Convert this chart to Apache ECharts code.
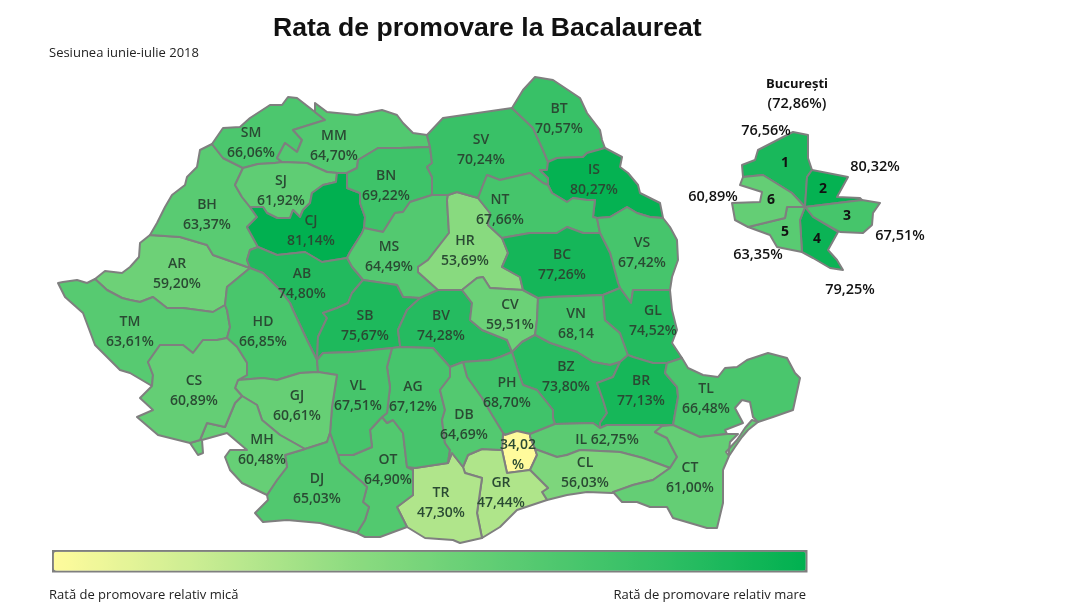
<!DOCTYPE html>
<html>
<head>
<meta charset="utf-8">
<title>Rata de promovare la Bacalaureat</title>
<script src="https://cdn.jsdelivr.net/npm/echarts@6/dist/echarts.min.js"></script>
<style>
  html, body { margin: 0; padding: 0; background: #fff; }
  #chart { width: 1077px; height: 605px; }
</style>
</head>
<body>
<div id="chart"></div>
<script>
// values
const counties = ["AR","TM","BH","SM","MM","SJ","CJ","BN","MS","AB","HD","SB","BV","HR","CV","SV","BT","IS","NT","VS","BC","VN","GL","BZ","BR","TL","PH","IL","IF","CL","GR","CT","TR","OT","AG","DB","VL","GJ","DJ","MH","CS"];
const countyValues = [59.20,63.61,63.37,66.06,64.70,61.92,81.14,69.22,64.49,74.80,66.85,75.67,74.28,53.69,59.51,70.24,70.57,80.27,67.66,67.42,77.26,68.14,74.52,73.80,77.13,66.48,68.70,62.75,34.02,56.03,47.44,61.00,47.30,64.90,67.12,64.69,67.51,60.61,65.03,60.48,60.89];
const sectors = ["1","2","3","4","5","6"];
const sectorValues = [76.56,80.32,67.51,79.25,63.35,60.89];
const bucharestTotal = 72.86;

// county outlines, traced in picture pixels. each border is typed once so neighbours line up
const borders = {
  ar_out: "150,235 140,243 139,257 130,267 122,273 105,271 95,279",
  bh_ar: "150,235 180,237 207,245 213,255 250,268",
  ar_tm: "95,279 107,290 122,298 130,300 140,302 153,297 167,308 183,308 213,312 225,305",
  ar_hd: "225,305 227,287 250,268",
  tm_out: "95,279 87,283 77,280 63,282 58,283 65,297 83,313 95,345 110,360 120,370 130,373 152,386",
  tm_hd: "225,305 227,310 230,327 227,338",
  tm_cs: "152,386 153,375 148,362 160,345 183,345 193,353 203,340 217,340 227,338",
  hd_cs: "227,338 237,347 247,363 247,375 238,380",
  hd_gj: "238,380 263,378 277,380 300,373 318,372",
  cs_gj: "238,380 235,388 242,396",
  cs_out: "152,386 140,398 153,410 137,417 158,435 190,443",
  cs_mh: "242,396 235,403 225,427 207,423 200,440 190,443",
  mh_out: "190,443 198,455 203,453 202,440 227,433 247,450 230,450 225,457 230,470 242,483 267,495",
  mh_gj: "242,396 257,405 262,420 280,435 305,449",
  mh_dj: "267,495 277,480 287,467 285,455 305,449",
  dj_out: "267,495 268,500 255,513 263,522 287,520 320,523 357,533",
  gj_dj: "305,449 327,442 330,433",
  gj_vl: "318,372 337,375 332,407 330,433",
  vl_dj: "330,433 337,453 338,455",
  dj_ot: "338,455 340,463 363,483 367,487 363,502 369,507 365,520 357,533",
  ot_out: "357,533 365,537 380,537 407,527",
  ot_vl: "338,455 353,455 372,447 370,430 382,417",
  vl_ag: "392,348 387,367 390,387 387,413 382,417",
  ot_ag: "382,417 387,423 393,420 403,433 407,467",
  ot_tr: "407,467 413,470 413,495 397,507 407,527",
  ag_tr: "407,467 415,468 448,463",
  tr_out: "407,527 425,538 453,540 460,543 482,538",
  tr_gr: "463,467 465,473 482,478 477,513 482,538",
  db_tr: "448,463 452,453 463,467",
  gr_out: "482,538 500,527 517,510 547,500",
  db_gr: "463,467 468,455 482,449 502,450",
  gr_if: "502,450 507,473 530,470",
  cl_gr: "547,500 542,492 548,488 537,477 530,470",
  if_cl: "530,470 537,455 535,449",
  il_if: "535,449 530,437 530,434",
  ph_if: "530,434 517,431 505,435 503,433",
  db_if: "503,433 502,450",
  db_ph: "463,362 467,377 482,398 492,415 503,433",
  ag_db: "450,367 450,377 440,390 445,410 442,420 445,443 450,450 448,463",
  bv_db: "450,367 463,362",
  ag_bv: "400,347 433,348 450,367",
  ag_sb: "392,348 400,347",
  sb_vl: "317,360 323,353 353,352 392,348",
  hd_vl: "317,360 318,372",
  ab_hd: "250,268 263,273 280,290 290,303 293,310 307,340 317,360",
  ab_sb: "317,360 318,337 327,318 323,313 337,308 348,303 352,293 363,280",
  ab_ms: "347,258 352,267 363,280",
  bh_ab: "258,247 250,250 247,260 250,268",
  bh_cj: "250,207 257,217 247,227 258,247",
  bh_sj: "243,168 235,185 242,197 250,207",
  bh_out: "150,235 157,223 165,207 172,195 185,185 187,177 197,167 200,150 212,144",
  bh_sm: "212,144 223,158 243,168",
  sm_out: "212,144 223,128 240,127 250,118 270,105 282,105 288,97 297,98 315,112",
  sm_mm: "315,112 325,120 293,130 302,140 297,152 285,143 277,158 282,162",
  sm_sj: "243,168 258,164 275,163 282,162",
  mm_out: "315,112 315,103 327,112 357,115 382,110 397,115 403,123 413,133 427,135",
  mm_sv: "427,135 430,147",
  bn_mm: "430,147 400,148 378,148 358,160 357,168 347,173",
  mm_sj: "282,162 307,163 327,172 337,173",
  mm_cj: "337,173 347,173",
  bn_cj: "347,173 347,188 360,193 360,203 365,217 364,228",
  cj_sj: "337,173 336,182 323,185 312,193 310,203 303,210 300,217 293,210 290,218 277,218 267,213 263,207 250,207",
  bn_ms: "364,228 383,232 395,213 403,212 410,202 432,195",
  bn_sv: "430,147 432,163 427,167 432,177 432,195",
  cj_ms: "364,228 362,233 350,252 347,258",
  cj_ab: "258,247 277,255 305,252 322,262 347,258",
  ms_sv: "432,195 448,195",
  hr_ms: "448,195 447,200 449,233 428,260 418,267 418,272 438,290",
  ms_sb: "363,280 397,285 403,297 420,298",
  ms_bv: "420,298 438,290",
  sb_bv: "420,298 407,310 398,330 400,345 400,347",
  bv_hr: "438,290 462,290",
  bv_cv: "462,290 472,303 470,320 482,330 507,340 512,352",
  bv_ph: "463,362 490,360 500,357 512,352",
  hr_sv: "448,195 457,192 478,198",
  hr_nt: "478,198 490,213 488,225 502,238",
  hr_bc: "502,238 508,253 502,267 520,277 523,290",
  hr_cv: "462,290 477,278 483,277 490,288 523,290",
  bc_cv: "523,290 538,298",
  bc_vn: "538,298 550,297 603,295",
  bc_gl: "603,295 620,288",
  bc_vs: "600,233 610,253 618,283 620,288",
  bc_nt: "502,238 530,233 557,233 567,227 583,233 600,233",
  nt_sv: "478,198 487,175 500,180 530,173 543,183 548,185",
  is_nt: "548,185 552,193 567,202 573,198 587,200 595,200 593,217 597,218",
  nt_vs: "597,218 600,233",
  is_sv: "548,185 548,178 540,170 547,170 548,162",
  bt_sv: "512,108 533,128 543,150 548,162",
  sv_out: "427,135 443,118 512,108",
  bt_out: "512,108 523,90 535,77 553,80 580,98 587,113 600,130 602,140 605,148",
  bt_is: "605,148 587,153 583,157 557,158 548,162",
  is_out: "605,148 622,157 620,167 628,173 638,185 640,193 660,203 663,218",
  is_vs: "663,218 650,217 637,213 627,207 610,217 597,218",
  vs_out: "663,218 670,227 677,240 678,260 672,277 670,290",
  gl_vs: "620,288 631,303 633,290 670,290",
  gl_out: "670,290 672,310 677,330 672,343 682,358",
  gl_tl: "682,358 667,363",
  br_gl: "667,363 653,363 633,357 628,355",
  gl_vn: "603,295 605,320 620,333 628,355",
  bz_vn: "535,335 550,343 577,352 593,362 610,365 620,362",
  br_vn: "620,362 628,355",
  cv_vn: "538,298 537,320 535,335",
  bz_cv: "535,335 522,342 512,352",
  br_bz: "620,362 613,377 597,383 603,400 607,413 600,423 600,428",
  br_il: "600,428 607,425 657,425 673,425",
  br_tl: "667,363 665,373 677,387 678,397 673,425",
  bz_il: "600,428 593,423 555,424",
  bz_ph: "512,352 520,377 523,385 537,390 553,410 553,418 555,424",
  il_ph: "555,424 530,434",
  il_cl: "535,449 557,457 567,455 580,450 620,452 643,458 670,468",
  ct_il: "670,468 677,457 667,438 655,432 662,426 673,425",
  ct_tl: "673,425 700,437 727,434",
  tl_out: "682,358 688,368 703,375 718,377 725,368 737,367 747,360 768,353 787,358 795,373 800,378 793,410 773,417 758,422 753,417 750,402 742,400 735,408 743,423 725,430 727,434",
  ct_out: "727,434 738,434 730,442 729,450 729,456 723,470 723,483 723,503 717,528 707,528 673,518 667,507 650,507 637,502 622,502 612,493",
  cl_ct: "670,468 653,480 633,485 613,492 612,493",
  cl_out: "612,493 587,492 567,495 547,500"
};

const rings = {
  AR: "ar_out ar_tm ar_hd -bh_ar",
  TM: "tm_out tm_cs -tm_hd -ar_tm",
  BH: "bh_out bh_sm bh_sj bh_cj bh_ab -bh_ar",
  SM: "sm_out sm_mm -sm_sj -bh_sm",
  MM: "mm_out mm_sv bn_mm -mm_cj -mm_sj -sm_mm",
  SJ: "sm_sj mm_sj cj_sj -bh_sj",
  CJ: "mm_cj bn_cj cj_ms -cj_ab -bh_cj -cj_sj",
  BN: "-bn_mm bn_sv -bn_ms -bn_cj",
  MS: "bn_ms ms_sv hr_ms -ms_bv -ms_sb -ab_ms -cj_ms",
  AB: "bh_ab ab_hd ab_sb -ab_ms -cj_ab",
  HD: "ar_hd ab_hd hd_vl -hd_gj -hd_cs -tm_hd",
  SB: "-ab_sb sb_vl ag_sb -sb_bv -ms_sb",
  BV: "sb_bv ag_bv bv_db bv_ph -bv_cv -bv_hr -ms_bv",
  HR: "-hr_ms hr_sv hr_nt hr_bc -hr_cv -bv_hr",
  CV: "hr_cv bc_cv cv_vn bz_cv -bv_cv",
  SV: "sv_out bt_sv -is_sv -nt_sv -hr_sv -ms_sv -bn_sv -mm_sv",
  BT: "bt_out bt_is -bt_sv",
  IS: "is_out is_vs -is_nt is_sv -bt_is",
  NT: "nt_sv is_nt nt_vs -bc_nt -hr_nt",
  VS: "-is_vs vs_out -gl_vs -bc_vs -nt_vs",
  BC: "bc_nt bc_vs -bc_gl -bc_vn -bc_cv -hr_bc",
  VN: "bc_vn gl_vn -br_vn -bz_vn -cv_vn",
  GL: "gl_vs gl_out gl_tl br_gl -gl_vn bc_gl",
  BZ: "-bz_cv bz_vn br_bz bz_il -bz_ph",
  BR: "br_vn -br_gl br_tl -br_il -br_bz",
  TL: "tl_out -ct_tl -br_tl -gl_tl",
  PH: "-bv_ph db_ph -ph_if -il_ph -bz_ph",
  IL: "il_ph -il_if il_cl ct_il -br_il bz_il",
  IF: "il_if ph_if db_if gr_if if_cl",
  CL: "-if_cl -cl_gr -cl_out -cl_ct -il_cl",
  GR: "db_gr gr_if -cl_gr -gr_out -tr_gr",
  CT: "-ct_il cl_ct -ct_out -ct_tl",
  TR: "ag_tr db_tr tr_gr -tr_out -ot_tr",
  OT: "ot_vl ot_ag ot_tr -ot_out -dj_ot",
  AG: "vl_ag ot_ag ag_tr -ag_db -ag_bv -ag_sb",
  DB: "ag_db db_tr db_gr -db_if -db_ph -bv_db",
  VL: "-hd_vl sb_vl vl_ag -ot_vl -vl_dj -gj_vl",
  GJ: "hd_gj gj_vl -gj_dj -mh_gj -cs_gj",
  DJ: "gj_dj vl_dj dj_ot -dj_out mh_dj",
  MH: "mh_out mh_dj -mh_gj cs_mh",
  CS: "cs_out -cs_mh -cs_gj -hd_cs -tm_cs"
};

// the thin sandbar beside the Razim lagoon belongs to Constanta
const ctSandbar = "758,422 748,430 742,437 735,447 729,456 726,452 737,440 745,428 752,420";

const sectorRings = {
  "1": "742,165 755,160 758,150 793,132 808,135 808,158 812,170 807,177 805,207 792,193 763,175 743,177",
  "2": "812,170 848,177 837,197 860,198 862,200 805,207 807,177",
  "3": "805,207 862,200 880,203 873,213 872,225 863,233 840,232 813,217",
  "4": "805,207 813,217 838,232 828,250 837,260 843,270 830,268 813,258 802,252 800,220",
  "5": "787,207 805,207 800,220 802,252 777,247 770,235 748,227 785,218",
  "6": "740,185 743,177 763,175 792,193 805,207 787,207 785,218 748,227 735,220 732,203 760,202 762,192"
};

// where the text of each region sits
const labelPos = {
  BT:[559,119],SV:[481,150],IS:[594,180],MM:[334,146],SM:[251,143],BN:[386,186],NT:[500,210],SJ:[281,191],BH:[207,215],CJ:[311,231],
  HR:[465,251],MS:[389,257],BC:[562,265],VS:[642,253],AR:[177,274],AB:[302,284],CV:[510,315],GL:[653,321],VN:[576,324],TM:[130,332],
  HD:[263,332],SB:[365,326],BV:[441,326],BZ:[566,377],PH:[507,393],BR:[641,391],CS:[194,391],VL:[358,396],AG:[413,397],TL:[706,399],
  GJ:[297,406],DB:[464,425],IL:[607,440],MH:[262,450],CL:[585,473],IF:[518,455],OT:[388,470],CT:[690,478],DJ:[317,489],GR:[501,493],TR:[441,503],
  "1":[785,163],"2":[823,189],"3":[847,216],"4":[817,239],"5":[785,232],"6":[771,200]
};
const sectorValuePos = [[766,131],[875,167],[900,236],[850,290],[758,255],[713,197]];

const parsePts = (s) => s.split(" ").map((p) => p.split(",").map(Number));
const flip = (pts) => pts.map(([x, y]) => [x, -y]);

function buildRing(spec) {
  let out = [];
  spec.split(" ").forEach((name) => {
    const rev = name[0] === "-";
    const pts = parsePts(borders[rev ? name.slice(1) : name]);
    if (rev) pts.reverse();
    out = out.concat(pts);
  });
  return out;
}

function feature(name, polys) {
  return {
    type: "Feature",
    properties: { name: name, cp: [labelPos[name][0], -labelPos[name][1]] },
    geometry: { type: "MultiPolygon", coordinates: polys.map((p) => [flip(p)]) }
  };
}

const features = counties.map((c) => {
  const polys = [buildRing(rings[c])];
  if (c === "CT") polys.push(parsePts(ctSandbar));
  return feature(c, polys);
}).concat(sectors.map((s) => feature(s, [parsePts(sectorRings[s])])));

echarts.registerMap("romania", { type: "FeatureCollection", features: features });

const fmt = (v) => v.toFixed(2).replace(".", ",");

function countyLabel(code, v) {
  if (code === "VN") return code + "\n" + fmt(v);
  if (code === "IL") return code + " " + fmt(v) + "%";
  if (code === "IF") return fmt(v) + "\n%";
  return code + "\n" + fmt(v) + "%";
}

const uiFont = '"Open Sans", sans-serif';
const noteStyle = { fontFamily: uiFont, fontSize: 13, fontWeight: 400, color: "#222" };

const chart = echarts.init(document.getElementById("chart"));

const mapData = counties.map((c, i) => ({
  name: c,
  value: countyValues[i],
  label: { formatter: countyLabel(c, countyValues[i]) }
})).concat(sectors.map((s, i) => ({
  name: s,
  value: sectorValues[i],
  label: { formatter: s, color: "#111", fontSize: 14, fontWeight: 700 }
})));

const option = {
  animation: false,
  backgroundColor: "#fff",
  title: [
    { text: "Rata de promovare la Bacalaureat", left: 268, top: 10, textStyle: { fontFamily: '"Liberation Sans", Arial', fontSize: 26.6, fontWeight: 700, color: "#111" } },
    { text: "Sesiunea iunie-iulie 2018", left: 44, top: 42, textStyle: noteStyle },
    { text: "Rată de promovare relativ mică", left: 44, top: 584, textStyle: noteStyle },
    { text: "Rată de promovare relativ mare", right: 266, top: 584, textStyle: noteStyle }
  ],
  visualMap: {
    type: "continuous",
    orient: "horizontal",
    min: 34,
    max: 81.3,
    left: 52,
    top: 550,
    itemWidth: 19,
    itemHeight: 752,
    padding: 0,
    borderColor: "#7f7f7f",
    borderWidth: 3.5,
    text: null,
    showLabel: false,
    calculable: false,
    hoverLink: false,
    seriesIndex: 0,
    inRange: { color: ["#FFFB9C", "#C8EC92", "#8CDB80", "#5DCC73", "#32BF65", "#00B050"] }
  },
  series: [{
    type: "map",
    map: "romania",
    left: 0,
    top: 0,
    width: 1077,
    height: 605,
    aspectScale: 1,
    boundingCoords: [[0, 0], [1077, -605]],
    roam: false,
    selectedMode: false,
    silent: true,
    itemStyle: { borderColor: "#7f7f7f", borderWidth: 2, borderJoin: "round" },
    label: { show: true, color: "#2a4a33", fontFamily: uiFont, fontSize: 14, fontWeight: 600, lineHeight: 20, align: "center", verticalAlign: "middle" },
    data: mapData
  }],
  graphic: [
    { type: "text", x: 797, y: 84, style: { text: "București", fontFamily: uiFont, fontSize: 13, fontWeight: 700, fill: "#111", align: "center", verticalAlign: "middle" } },
    { type: "text", x: 797, y: 104, style: { text: "(" + fmt(bucharestTotal) + "%)", fontFamily: uiFont, fontSize: 14.5, fontWeight: 600, fill: "#111", align: "center", verticalAlign: "middle" } }
  ].concat(sectorValues.map((v, i) => ({
    type: "text",
    x: sectorValuePos[i][0],
    y: sectorValuePos[i][1],
    z: 10,
    style: { text: fmt(v) + "%", fontFamily: uiFont, fontSize: 14.5, fontWeight: 600, fill: "#111", align: "center", verticalAlign: "middle" }
  })))
};

chart.setOption(option);
</script>
</body>
</html>
